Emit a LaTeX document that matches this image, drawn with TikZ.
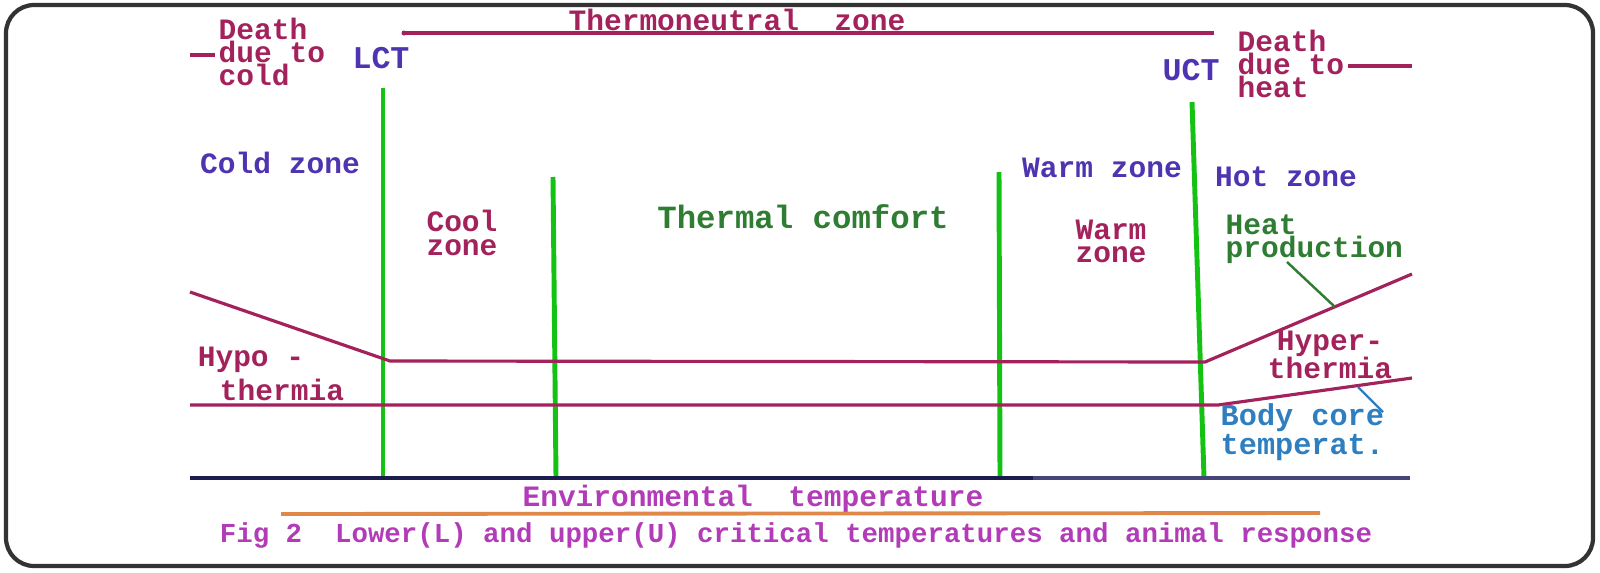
\documentclass[tikz,border=0pt]{standalone}
\usepackage{fontspec}
\setmainfont{Liberation Mono}
\usetikzlibrary{positioning}

\definecolor{deathred}{HTML}{A3225C}
\definecolor{ctblue}{HTML}{4E34B0}
\definecolor{comfgreen}{HTML}{2E7D32}
\definecolor{bargreen}{HTML}{14C214}
\definecolor{coreblue}{HTML}{2F7FC0}
\definecolor{axisnavy}{HTML}{1C1C4E}
\definecolor{axislight}{HTML}{454578}
\definecolor{envorange}{HTML}{E0884A}
\definecolor{capmag}{HTML}{B23BB8}
\definecolor{framegray}{HTML}{333333}

% tight line spacing inside labels
\newcommand{\lblfont}[1]{\bfseries\fontsize{8.4}{#1}\selectfont\lineskiplimit=0pt\lineskip=0.3pt\relax}

\tikzset{
  lbl/.style={font=\lblfont{6.6}, inner sep=0pt, align=center},
  zonebar/.style={draw=bargreen, line width=1.4pt},
  resp/.style={draw=deathred, line width=0.9pt},
}

\begin{document}
\begin{tikzpicture}[x=0.01cm, y=-0.01cm]
	\useasboundingbox (0,0) rectangle (1600,572);
	% Frame
	\draw[framegray, line width=1.2pt, rounded corners=8] (6,5) rectangle (1593,566);
	
	% Thermoneutral zone
	\node[lbl, text=deathred] (tnz) at (737,20) {Thermoneutral\ \ zone};
	\coordinate (tnzL) at (404,33);
	\coordinate (tnzR) at (1214,33);
	\draw[resp] (tnzL) -- (tnzR);
	\fill[deathred] (tnzL) circle (2.5);
	
	% Death
	\node[lbl, text=deathred, align=left, anchor=west] (dcold) at (218,52) {Death\\due to\\cold};
	\coordinate (dcoldA) at (190,55);
	\coordinate (dcoldB) at (215,55);
	\draw[resp] (dcoldA) -- (dcoldB);
	\node[lbl, text=deathred, align=left, anchor=west] (dheat) at (1237,64) {Death\\due to\\heat};
	\coordinate (dheatA) at (1348,66);
	\coordinate (dheatB) at (1412,66);
	\draw[resp] (dheatA) -- (dheatB);
	
	% Critical temperatures
	\node[lbl, text=ctblue, font=\bfseries\fontsize{9}{6}\selectfont] (lct) at (381,58) {LCT};
	\node[lbl, text=ctblue, font=\bfseries\fontsize{9}{6}\selectfont] (uct) at (1191,70) {UCT};
	
	% Zone borders
	\coordinate (lctT) at (383,88);   \coordinate (lctB) at (383,480);
	\coordinate (coolT) at (553,177); \coordinate (coolB) at (556,478);
	\coordinate (warmT) at (999,172); \coordinate (warmB) at (1000,478);
	\coordinate (uctT) at (1192,102); \coordinate (uctB) at (1204,478);
	\draw[zonebar] (lctT) -- (lctB);
	\draw[zonebar] (coolT) -- (coolB);
	\draw[zonebar] (warmT) -- (warmB);
	\draw[zonebar] (uctT) -- (uctB);
	
	% Zones
	\node[lbl, text=ctblue] (coldz) at (280,163) {Cold zone};
	\node[lbl, text=deathred, font=\lblfont{7}] (coolz) at (462,233) {Cool\\zone};
	\node[lbl, text=comfgreen, font=\bfseries\fontsize{9.2}{7}\selectfont] (comf) at (803,217) {Thermal comfort};
	\node[lbl, text=ctblue] (warmz) at (1102,168) {Warm zone};
	\node[lbl, text=ctblue] (hotz) at (1286,177) {Hot zone};
	\node[lbl, text=deathred, font=\lblfont{6.5}] (warmzb) at (1111,241) {Warm\\zone};
	
	% Heat production
	\coordinate (hpA) at (190,292);
	\coordinate (hpB) at (390,361);
	\coordinate (hpC) at (1205,362);
	\coordinate (hpD) at (1412,274);
	\draw[resp] (hpA) -- (hpB) -- (hpC) -- (hpD);
	\node[lbl, text=comfgreen, align=left, anchor=west, font=\lblfont{6.5}] (hprod) at (1225,239) {Heat\\production};
	\coordinate (hpLa) at (1287,262);
	\coordinate (hpLb) at (1335,307);
	\draw[comfgreen, line width=0.7pt] (hpLa) -- (hpLb);
	
	% Body core temperature
	\coordinate (bcA) at (190,405);
	\coordinate (bcB) at (1218,405);
	\coordinate (bcC) at (1412,378);
	\draw[resp] (bcA) -- (bcB) -- (bcC);
	\node[lbl, text=coreblue, align=left, anchor=west, font=\bfseries\fontsize{8.6}{8.2}\selectfont] (bcore) at (1220,432) {Body core\\temperat.};
	\coordinate (bcLa) at (1358,387);
	\coordinate (bcLb) at (1383,412);
	\draw[coreblue, line width=0.7pt] (bcLa) -- (bcLb);
	
	% Hypo / hyper
	\node[lbl, text=deathred] (hypoa) at (251,360) {Hypo -};
	\node[lbl, text=deathred] (hypob) at (282,390) {thermia};
	\node[lbl, text=deathred, font=\lblfont{6.2}] (hyper) at (1330,355) {Hyper-\\thermia};
	
	% Axis
	\coordinate (axA) at (190,478);
	\coordinate (axM) at (1033,478);
	\coordinate (axB) at (1410,478);
	\draw[axisnavy, line width=1.2pt] (axA) -- (axM);
	\draw[axislight, line width=0.9pt] (axM) -- (axB);
	\node[lbl, text=capmag] (envt) at (753,499) {Environmental\ \ temperature};
	\coordinate (orA) at (281,514);
	\coordinate (orB) at (1320,513);
	\draw[envorange, line width=1.1pt] (orA) -- (orB);
	
	% Caption
	\node[lbl, text=capmag, font=\bfseries\fontsize{7.8}{6}\selectfont] (cap) at (796,535) {Fig 2\ \ Lower(L) and upper(U) critical temperatures and animal response};
\end{tikzpicture}
\end{document}
